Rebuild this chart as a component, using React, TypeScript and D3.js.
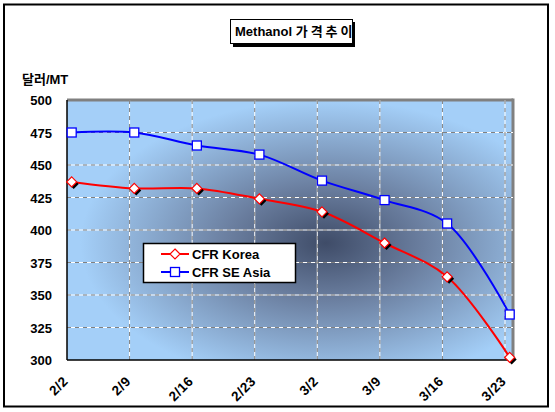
import React from "react";
import * as d3 from "d3";

const dates = ["2/2", "2/9", "2/16", "2/23", "3/2", "3/9", "3/16", "3/23"];
const korea = [437, 432, 432, 424, 414, 390, 364, 302];
const seAsia = [475, 475, 465, 458, 438, 423, 405, 335];
const yTicks = [300, 325, 350, 375, 400, 425, 450, 475, 500];

const W = 555;
const H = 412;
const plot = { left: 67, right: 505, top: 100, bottom: 360, wall: 513 };
const markerShift = 0.075; // markers sit slightly right of the category gridlines

export default function App() {
  const x = d3.scaleLinear().domain([0, dates.length - 1]).range([plot.left, plot.right]);
  const y = d3.scaleLinear().domain([300, 500]).range([plot.bottom, plot.top]);
  const line = d3
    .line<number>()
    .x((_, i) => x(i + markerShift))
    .y((d) => y(d))
    .curve(d3.curveCatmullRom.alpha(0.5));

  const font = "Arial, 'Liberation Sans', 'Noto Sans CJK KR', sans-serif";
  const diamond = (cx: number, cy: number, r: number) =>
    `M${cx},${cy - r}L${cx + r},${cy}L${cx},${cy + r}L${cx - r},${cy}Z`;

  return (
    <svg width={W} height={H} style={{ position: "absolute", left: 0, top: 0 }} fontFamily={font}>
      <defs>
        <radialGradient id="bg" cx="0.58" cy="0.55" r="0.55">
          <stop offset="0%" stopColor="#3f4c68" />
          <stop offset="40%" stopColor="#6b7fa0" />
          <stop offset="100%" stopColor="#a4cff8" />
        </radialGradient>
      </defs>
      <rect x={0} y={0} width={W} height={H} fill="#fff" />
      <rect x={4} y={4.5} width={544} height={402} fill="#fff" stroke="#000" strokeWidth={2} />

      {/* title */}
      <rect x={233} y={22} width={122} height={25} fill="#000" />
      <rect x={230.5} y={19.5} width={122} height={24} fill="#fff" stroke="#000" strokeWidth={1} />
      <text x={235} y={36} fontSize={13} fontWeight="bold">
        Methanol{" "}
        <tspan letterSpacing={3}>가격추이</tspan>
      </text>

      <text x={22} y={84} fontSize={13} fontWeight="bold">
        달러/MT
      </text>

      {/* plot wall */}
      <rect x={plot.left} y={plot.top} width={plot.wall - plot.left} height={plot.bottom - plot.top} fill="url(#bg)" />
      <line x1={plot.left} x2={plot.wall} y1={plot.top} y2={plot.top} stroke="#808080" strokeWidth={3} />
      <line x1={plot.wall} x2={plot.wall} y1={plot.top - 1.5} y2={plot.bottom} stroke="#808080" strokeWidth={3} />

      {/* gridlines */}
      {yTicks.slice(1, -1).map((t) => (
        <g key={t}>
          <line x1={plot.left} x2={plot.wall} y1={y(t)} y2={y(t)} stroke="#fff" strokeWidth={1} />
          <line x1={plot.left} x2={plot.wall} y1={y(t)} y2={y(t)} stroke="#808080" strokeWidth={1} strokeDasharray="4,4" />
        </g>
      ))}
      {dates.slice(1).map((d, i) => (
        <g key={d}>
          <line x1={x(i + 1)} x2={x(i + 1)} y1={plot.top} y2={plot.bottom} stroke="#fff" strokeWidth={1} />
          <line x1={x(i + 1)} x2={x(i + 1)} y1={plot.top} y2={plot.bottom} stroke="#808080" strokeWidth={1} strokeDasharray="4,4" />
        </g>
      ))}

      {/* axes */}
      <line x1={plot.left} x2={plot.left} y1={plot.top} y2={plot.bottom} stroke="#000" strokeWidth={1.5} />
      <line x1={plot.left} x2={plot.wall} y1={plot.bottom} y2={plot.bottom} stroke="#000" strokeWidth={1.5} />
      {yTicks.map((t) => (
        <text key={t} x={52} y={y(t) + 5} textAnchor="end" fontSize={13} fontWeight="bold">
          {t}
        </text>
      ))}
      {dates.map((d, i) => (
        <text
          key={d}
          transform={`translate(${x(i) + 2},${382}) rotate(-45)`}
          textAnchor="end"
          fontSize={13.5}
          fontWeight="bold"
          letterSpacing={0.5}
        >
          {d}
        </text>
      ))}

      {/* series */}
      <path d={line(seAsia) || ""} fill="none" stroke="#0000ff" strokeWidth={2} />
      <path d={line(korea) || ""} fill="none" stroke="#ff0000" strokeWidth={2} />
      {seAsia.map((v, i) => (
        <rect key={i} x={x(i + markerShift) - 4.5} y={y(v) - 4.5} width={9} height={9} fill="#fff" stroke="#0000ff" strokeWidth={1.3} />
      ))}
      {korea.map((v, i) => (
        <g key={i}>
          <path d={diamond(x(i + markerShift) + 2, y(v) + 2, 5)} fill="#000" />
          <path d={diamond(x(i + markerShift), y(v), 5)} fill="#fff" stroke="#ff0000" strokeWidth={1.2} />
        </g>
      ))}

      {/* legend */}
      <rect x={143.5} y={243.5} width={152} height={39} fill="#fff" stroke="#000" strokeWidth={1.5} />
      <line x1={161} x2={189} y1={254} y2={254} stroke="#ff0000" strokeWidth={2} />
      <path d={diamond(175, 254, 5)} fill="#fff" stroke="#ff0000" strokeWidth={1.2} />
      <text x={192} y={258.5} fontSize={13} fontWeight="bold">
        CFR Korea
      </text>
      <line x1={161} x2={189} y1={272} y2={272} stroke="#0000ff" strokeWidth={2} />
      <rect x={170.5} y={267.5} width={9} height={9} fill="#fff" stroke="#0000ff" strokeWidth={1.3} />
      <text x={192} y={276.5} fontSize={13} fontWeight="bold">
        CFR SE Asia
      </text>
    </svg>
  );
}
